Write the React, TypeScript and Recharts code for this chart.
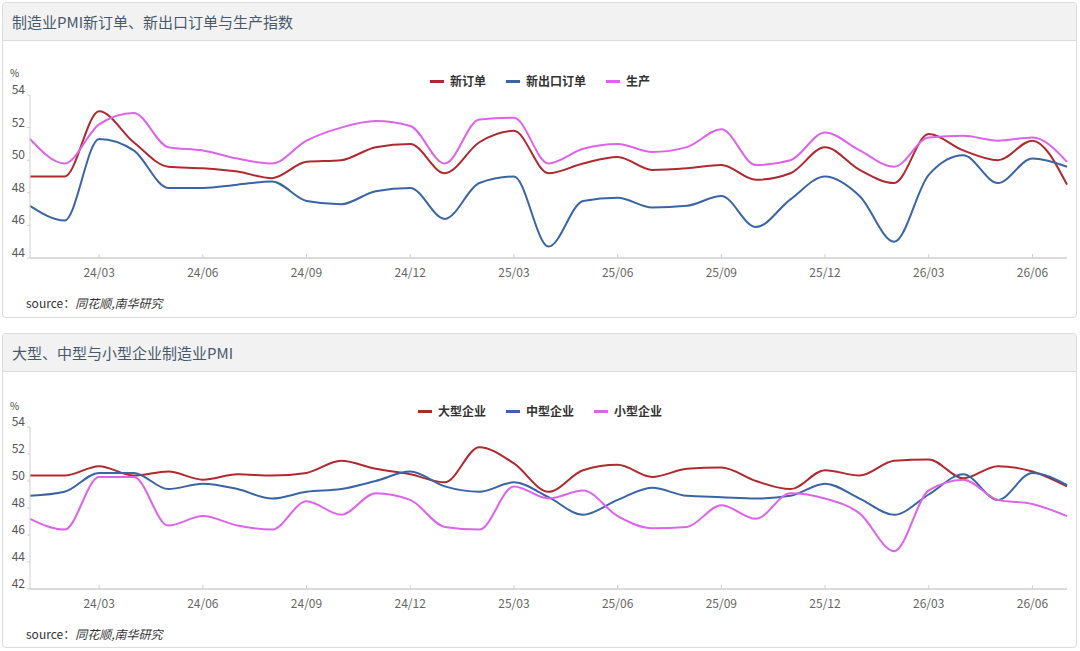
import React from "react";
import { LineChart, Line, XAxis, YAxis, Legend } from "recharts";

const months = [
  "24/01","24/02","24/03","24/04","24/05","24/06","24/07","24/08","24/09","24/10","24/11","24/12",
  "25/01","25/02","25/03","25/04","25/05","25/06","25/07","25/08","25/09","25/10","25/11","25/12",
  "26/01","26/02","26/03","26/04","26/05","26/06","26/07",
];
const xTicks = ["24/03","24/06","24/09","24/12","25/03","25/06","25/09","25/12","26/03","26/06"];
const yTicksTop = [44, 46, 48, 50, 52, 54];
const yTicksBottom = [42, 44, 46, 48, 50, 52, 54];

// 制造业PMI 新订单 / 新出口订单 / 生产
const newOrders = [49.0,49.0,53.0,51.1,49.6,49.5,49.3,48.9,49.9,50.0,50.8,51.0,49.2,51.1,51.8,49.2,49.8,50.2,49.4,49.5,49.7,48.8,49.2,50.8,49.4,48.6,51.6,50.6,50.0,51.2,48.5];
const newExportOrders = [47.2,46.3,51.3,50.6,48.3,48.3,48.5,48.7,47.5,47.3,48.1,48.3,46.4,48.6,49.0,44.7,47.5,47.7,47.1,47.2,47.8,45.9,47.6,49.0,47.8,45.0,49.1,50.3,48.6,50.1,49.6];
const production = [51.3,49.8,52.2,52.9,50.8,50.6,50.1,49.8,51.2,52.0,52.4,52.1,49.8,52.5,52.6,49.8,50.7,51.0,50.5,50.8,51.9,49.7,50.0,51.7,50.6,49.6,51.4,51.5,51.2,51.4,49.9];

// 大型 / 中型 / 小型企业 PMI
const largeEnt = [50.4,50.4,51.1,50.4,50.7,50.1,50.5,50.4,50.6,51.5,50.9,50.5,49.9,52.5,51.3,49.2,50.8,51.2,50.3,50.9,51.0,50.0,49.4,50.8,50.4,51.5,51.6,50.2,51.1,50.7,49.6];
const mediumEnt = [48.9,49.2,50.6,50.6,49.4,49.8,49.4,48.7,49.2,49.4,50.0,50.7,49.6,49.2,49.9,48.8,47.5,48.6,49.5,48.9,48.8,48.7,48.9,49.8,48.7,47.5,49.0,50.5,48.6,50.6,49.7];
const smallEnt = [47.2,46.4,50.3,50.3,46.7,47.4,46.7,46.4,48.5,47.5,49.1,48.6,46.6,46.4,49.6,48.7,49.3,47.4,46.5,46.6,48.2,47.2,49.1,48.7,47.6,44.8,49.3,50.1,48.6,48.3,47.4];

const RED = "#B0292E";
const BLUE = "#3A64A6";
const MAGENTA = "#DD64EA";
const FONT = "'Noto Sans CJK SC', 'Noto Sans', sans-serif";

const topSeries = [
  { key: "newOrders", name: "新订单", color: RED },
  { key: "newExportOrders", name: "新出口订单", color: BLUE },
  { key: "production", name: "生产", color: MAGENTA },
];
const bottomSeries = [
  { key: "large", name: "大型企业", color: RED },
  { key: "medium", name: "中型企业", color: BLUE },
  { key: "small", name: "小型企业", color: MAGENTA },
];

const topData = months.map((m, i) => ({
  month: m,
  newOrders: newOrders[i],
  newExportOrders: newExportOrders[i],
  production: production[i],
}));
const bottomData = months.map((m, i) => ({
  month: m,
  large: largeEnt[i],
  medium: mediumEnt[i],
  small: smallEnt[i],
}));

const XTick = (props: any) => {
  const { x, y, payload } = props;
  return (
    <g>
      <line x1={x} x2={x} y1={y} y2={y - 4} stroke="#cfcfcf" strokeWidth={1} />
      <text x={x} y={y + 19} textAnchor="middle" fill="#666" fontSize={12} fontFamily={FONT}>
        {payload.value}
      </text>
    </g>
  );
};

const YTick = (props: any) => {
  const { x, y, payload } = props;
  return (
    <g>
      <line x1={x - 3} x2={x} y1={y} y2={y} stroke="#cfcfcf" strokeWidth={1} />
      <text x={x - 5} y={y - 1} textAnchor="end" fill="#555" fontSize={12} fontFamily={FONT}>
        {payload.value}
      </text>
    </g>
  );
};

const makeLegend = (series: { key: string; name: string; color: string }[]) => () => (
  <div style={{ display: "flex", justifyContent: "center", alignItems: "center", gap: 20, height: 16 }}>
    {series.map((s) => (
      <div key={s.key} style={{ display: "flex", alignItems: "center" }}>
        <span style={{ display: "inline-block", width: 14, height: 3, background: s.color, marginRight: 6 }} />
        <span style={{ fontSize: 12, fontWeight: 700, color: "#333", fontFamily: FONT, lineHeight: "16px" }}>
          {s.name}
        </span>
      </div>
    ))}
  </div>
);
const TopLegend = makeLegend(topSeries);
const BottomLegend = makeLegend(bottomSeries);

const Panel = ({ top, height, title }: { top: number; height: number; title: string }) => (
  <div
    style={{
      position: "absolute",
      left: 2,
      top,
      width: 1075,
      height,
      boxSizing: "border-box",
      border: "1px solid #dcdcdc",
      borderRadius: 4,
      background: "#fff",
      overflow: "hidden",
    }}
  >
    <div
      style={{
        height: 38,
        boxSizing: "border-box",
        background: "#f2f2f2",
        borderBottom: "1px solid #dcdcdc",
        paddingLeft: 9,
        fontSize: 15,
        lineHeight: "37px",
        color: "#47596f",
        fontFamily: FONT,
      }}
    >
      {title}
    </div>
  </div>
);

const Source = ({ top }: { top: number }) => (
  <div
    style={{
      position: "absolute",
      left: 26,
      top,
      fontSize: 12,
      lineHeight: "16px",
      color: "#333",
      fontFamily: FONT,
    }}
  >
    source：<span style={{ fontStyle: "italic" }}>同花顺,南华研究</span>
  </div>
);

const Unit = ({ top }: { top: number }) => (
  <div
    style={{
      position: "absolute",
      left: 10,
      top,
      fontSize: 10,
      lineHeight: "10px",
      height: 10,
      color: "#444",
      fontFamily: FONT,
    }}
  >
    %
  </div>
);

const ChartBlock = ({
  top,
  data,
  series,
  domain,
  yTicks,
  marginTop,
  marginBottom,
  legend,
}: any) => (
  <div style={{ position: "absolute", left: 0, top }}>
    <LineChart width={1080} height={230} data={data} margin={{ top: marginTop, right: 13, bottom: marginBottom, left: 0 }}>
      <XAxis
        dataKey="month"
        ticks={xTicks}
        interval={0}
        height={25}
        tickSize={0}
        tickMargin={0}
        tick={<XTick />}
        tickLine={false}
        axisLine={{ stroke: "#cfcfcf", strokeWidth: 1.5 }}
      />
      <YAxis
        type="number"
        domain={domain}
        ticks={yTicks}
        interval={0}
        width={30}
        tickSize={0}
        tickMargin={0}
        tick={<YTick />}
        tickLine={false}
        axisLine={{ stroke: "#cfcfcf" }}
      />
      <Legend
        layout="horizontal"
        verticalAlign="middle"
        align="center"
        content={legend}
        wrapperStyle={{ top: 13, left: 0, width: 1080 }}
      />
      {series.map((s: any) => (
        <Line
          key={s.key}
          type="monotone"
          dataKey={s.key}
          name={s.name}
          stroke={s.color}
          strokeWidth={2}
          dot={false}
          activeDot={false}
          isAnimationActive={false}
        />
      ))}
    </LineChart>
  </div>
);

export default function App() {
  return (
    <div style={{ position: "absolute", left: 0, top: 0, width: 1080, height: 651, background: "#fff" }}>
      <Panel top={2} height={316} title="制造业PMI新订单、新出口订单与生产指数" />
      <Panel top={333} height={315} title="大型、中型与小型企业制造业PMI" />

      <Unit top={68} />
      <ChartBlock
        top={60}
        data={topData}
        series={topSeries}
        domain={[44, 54]}
        yTicks={yTicksTop}
        marginTop={35}
        marginBottom={7}
        legend={<TopLegend />}
      />
      <Source top={295} />

      <Unit top={401} />
      <ChartBlock
        top={390}
        data={bottomData}
        series={bottomSeries}
        domain={[42, 54]}
        yTicks={yTicksBottom}
        marginTop={37}
        marginBottom={6}
        legend={<BottomLegend />}
      />
      <Source top={626} />
    </div>
  );
}
